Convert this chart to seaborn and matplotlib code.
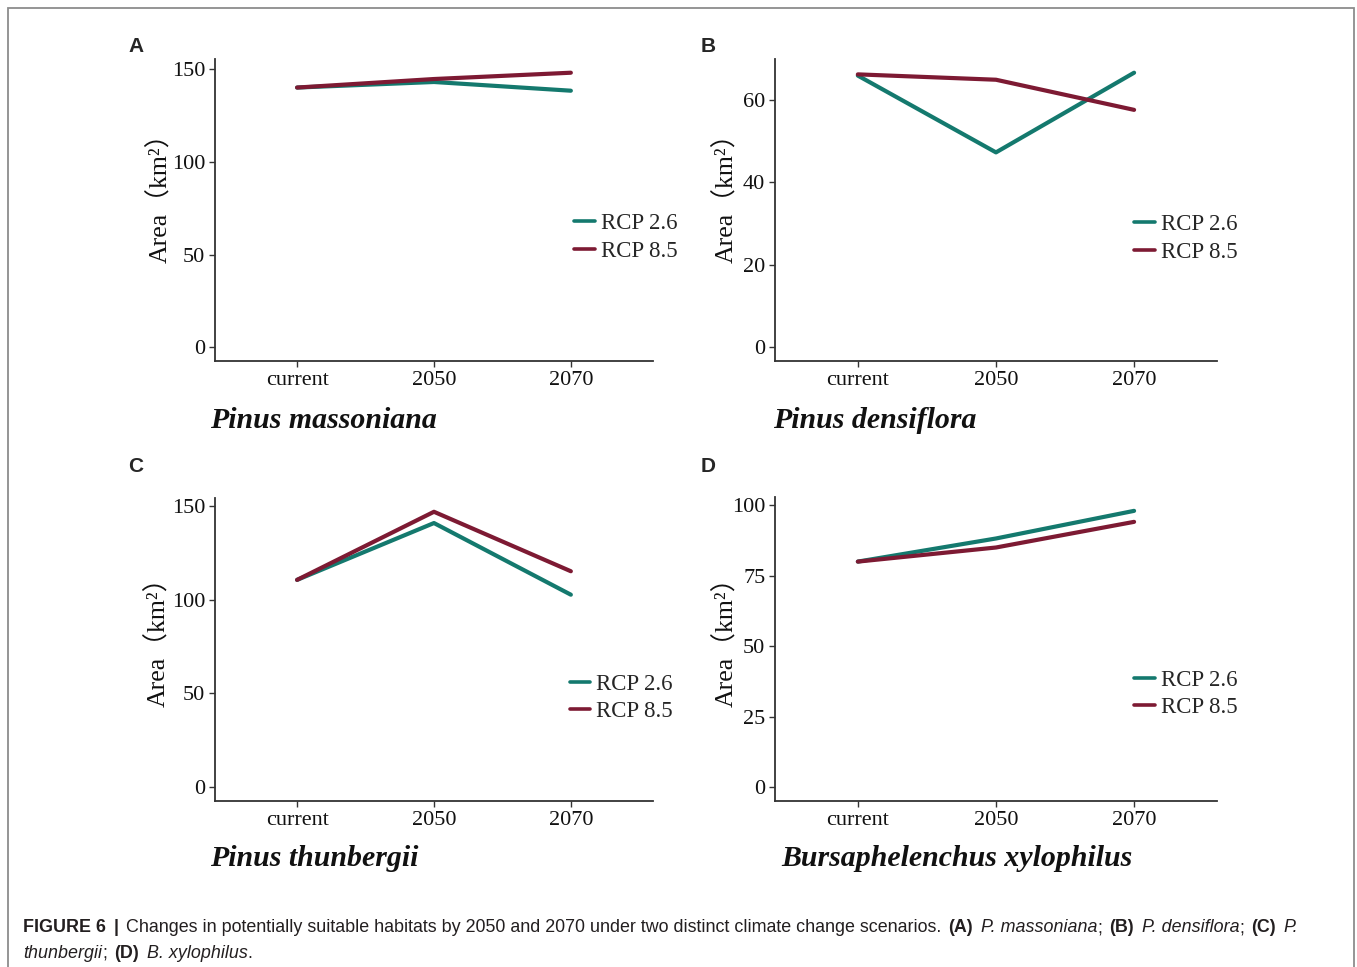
import pandas as pd
import matplotlib
matplotlib.use("Agg")
import matplotlib.pyplot as plt
import seaborn as sns

# values
periods = ["current", "2050", "2070"]
scenarios = ["RCP 2.6", "RCP 8.5"]

massoniana_26 = [140.0, 143.0, 138.3]
massoniana_85 = [140.0, 144.6, 148.0]
densiflora_26 = [65.8, 47.2, 66.5]
densiflora_85 = [66.1, 64.8, 57.5]
thunbergii_26 = [110.5, 140.8, 102.6]
thunbergii_85 = [110.5, 146.8, 115.1]
xylophilus_26 = [80.0, 88.2, 98.0]
xylophilus_85 = [80.0, 85.0, 94.1]

species = ["Pinus massoniana", "Pinus densiflora", "Pinus thunbergii", "Bursaphelenchus xylophilus"]
panel_letters = ["A", "B", "C", "D"]
yticks = [[0, 50, 100, 150], [0, 20, 40, 60], [0, 50, 100, 150], [0, 25, 50, 75, 100]]

sns.set_theme(style="ticks")
plt.rcParams["font.family"] = ["Liberation Serif", "Noto Sans CJK SC"]

teal = "#14796e"
wine = "#7d1a33"
spine_col = "#333333"

W, H = 1357, 967
fig = plt.figure(figsize=(W / 100, H / 100), dpi=100)

# outer frame of the published figure
fig.patches.append(plt.Rectangle((8 / W, -0.02), (1354 - 8) / W, 1 - 8 / H + 0.02,
                                 transform=fig.transFigure, fill=False,
                                 edgecolor="#8c8c8c", lw=1.3))

positions = [[0.1584, 0.6267, 0.3228, 0.3123],
             [0.5711, 0.6267, 0.3257, 0.3123],
             [0.1584, 0.1717, 0.3228, 0.3133],
             [0.5711, 0.1717, 0.3257, 0.3143]]
series = [(massoniana_26, massoniana_85), (densiflora_26, densiflora_85),
          (thunbergii_26, thunbergii_85), (xylophilus_26, xylophilus_85)]
legend_anchor = [(0.794, 0.41), (0.787, 0.405), (0.784, 0.34), (0.787, 0.352)]
ylabel_xy = [(-0.098, 0.56), (-0.084, 0.56), (-0.103, 0.545), (-0.084, 0.545)]
letter_pos = [(128, 47), (701, 47), (128, 466), (701, 466)]
species_pos = [(210, 420), (773, 420), (210, 858), (781, 858)]

for i in range(4):
    ax = fig.add_axes(positions[i])
    v26, v85 = series[i]
    df = pd.DataFrame({
        "period": periods * 2,
        "area": v26 + v85,
        "scenario": [scenarios[0]] * 3 + [scenarios[1]] * 3,
    })
    sns.lineplot(data=df, x="period", y="area", hue="scenario", palette=[teal, wine],
                 linewidth=3.0, sort=False, ax=ax)
    top = max(v26 + v85)
    ax.set_ylim(-0.05 * top, 1.05 * top)
    ax.set_xlim(-0.6, 2.6)
    ax.set_yticks(yticks[i])
    ax.set_xlabel("")
    ax.set_ylabel("Area（km²）", fontsize=18.5, color="#111111")
    ax.yaxis.set_label_coords(*ylabel_xy[i])
    sns.despine(ax=ax)
    for s in ["left", "bottom"]:
        ax.spines[s].set_color(spine_col)
        ax.spines[s].set_linewidth(1.3)
    ax.tick_params(axis="both", labelsize=16, colors="#111111", length=4, width=1,
                   pad=3)
    ax.tick_params(axis="both", color=spine_col)
    handles, labels = ax.get_legend_handles_labels()
    leg = ax.legend(handles, labels, loc="center left", bbox_to_anchor=legend_anchor[i],
                    frameon=False, fontsize=16.5, handlelength=0.9, handletextpad=0.25,
                    labelspacing=0.3, borderpad=0)
    for ln in leg.get_lines():
        ln.set_linewidth(2.6)

    lx, ly = letter_pos[i]
    fig.text(lx / W, 1 - ly / H, panel_letters[i], fontsize=15, fontweight="bold",
             family="Liberation Sans", va="center", ha="left")
    sx, sy = species_pos[i]
    fig.text(sx / W, 1 - sy / H, species[i], fontsize=21.5, style="italic",
             fontweight="bold", va="center", ha="left", color="#111111")

# caption with mixed bold / italic runs
fig.canvas.draw()
renderer = fig.canvas.get_renderer()
cap_size = 12.9
cap_col = "#231f20"
space_w = 0.278 * cap_size * 100 / 72

line1 = [("FIGURE 6", "bold"), ("  |  ", "bold"),
         ("Changes in potentially suitable habitats by 2050 and 2070 under two distinct climate change scenarios.", "normal"),
         (" ", "normal"), ("(A)", "bold"), (" ", "normal"), ("P. massoniana", "italic"), (";", "normal"), (" ", "normal"),
         ("(B)", "bold"), (" ", "normal"), ("P. densiflora", "italic"), (";", "normal"), (" ", "normal"),
         ("(C)", "bold"), (" ", "normal"), ("P.", "italic")]
line2 = [("thunbergii", "italic"), (";", "normal"), (" ", "normal"), ("(D)", "bold"), (" ", "normal"),
         ("B. xylophilus", "italic"), (".", "normal")]


def draw_runs(runs, x_px, y_px):
    for txt, st in runs:
        lead = len(txt) - len(txt.lstrip(" "))
        trail = len(txt) - len(txt.rstrip(" "))
        core = txt.strip(" ")
        x_px += lead * space_w * 0.75
        if core:
            kw = {}
            if st == "bold":
                kw["fontweight"] = "bold"
            elif st == "italic":
                kw["style"] = "italic"
            t = fig.text(x_px / W, 1 - y_px / H, core, fontsize=cap_size,
                         family="Liberation Sans", color=cap_col, va="center",
                         ha="left", **kw)
            x_px += t.get_window_extent(renderer).width
        x_px += trail * space_w * 0.75


draw_runs(line1, 23, 928)
draw_runs(line2, 23, 953)

fig.savefig("out.png", dpi=100)
